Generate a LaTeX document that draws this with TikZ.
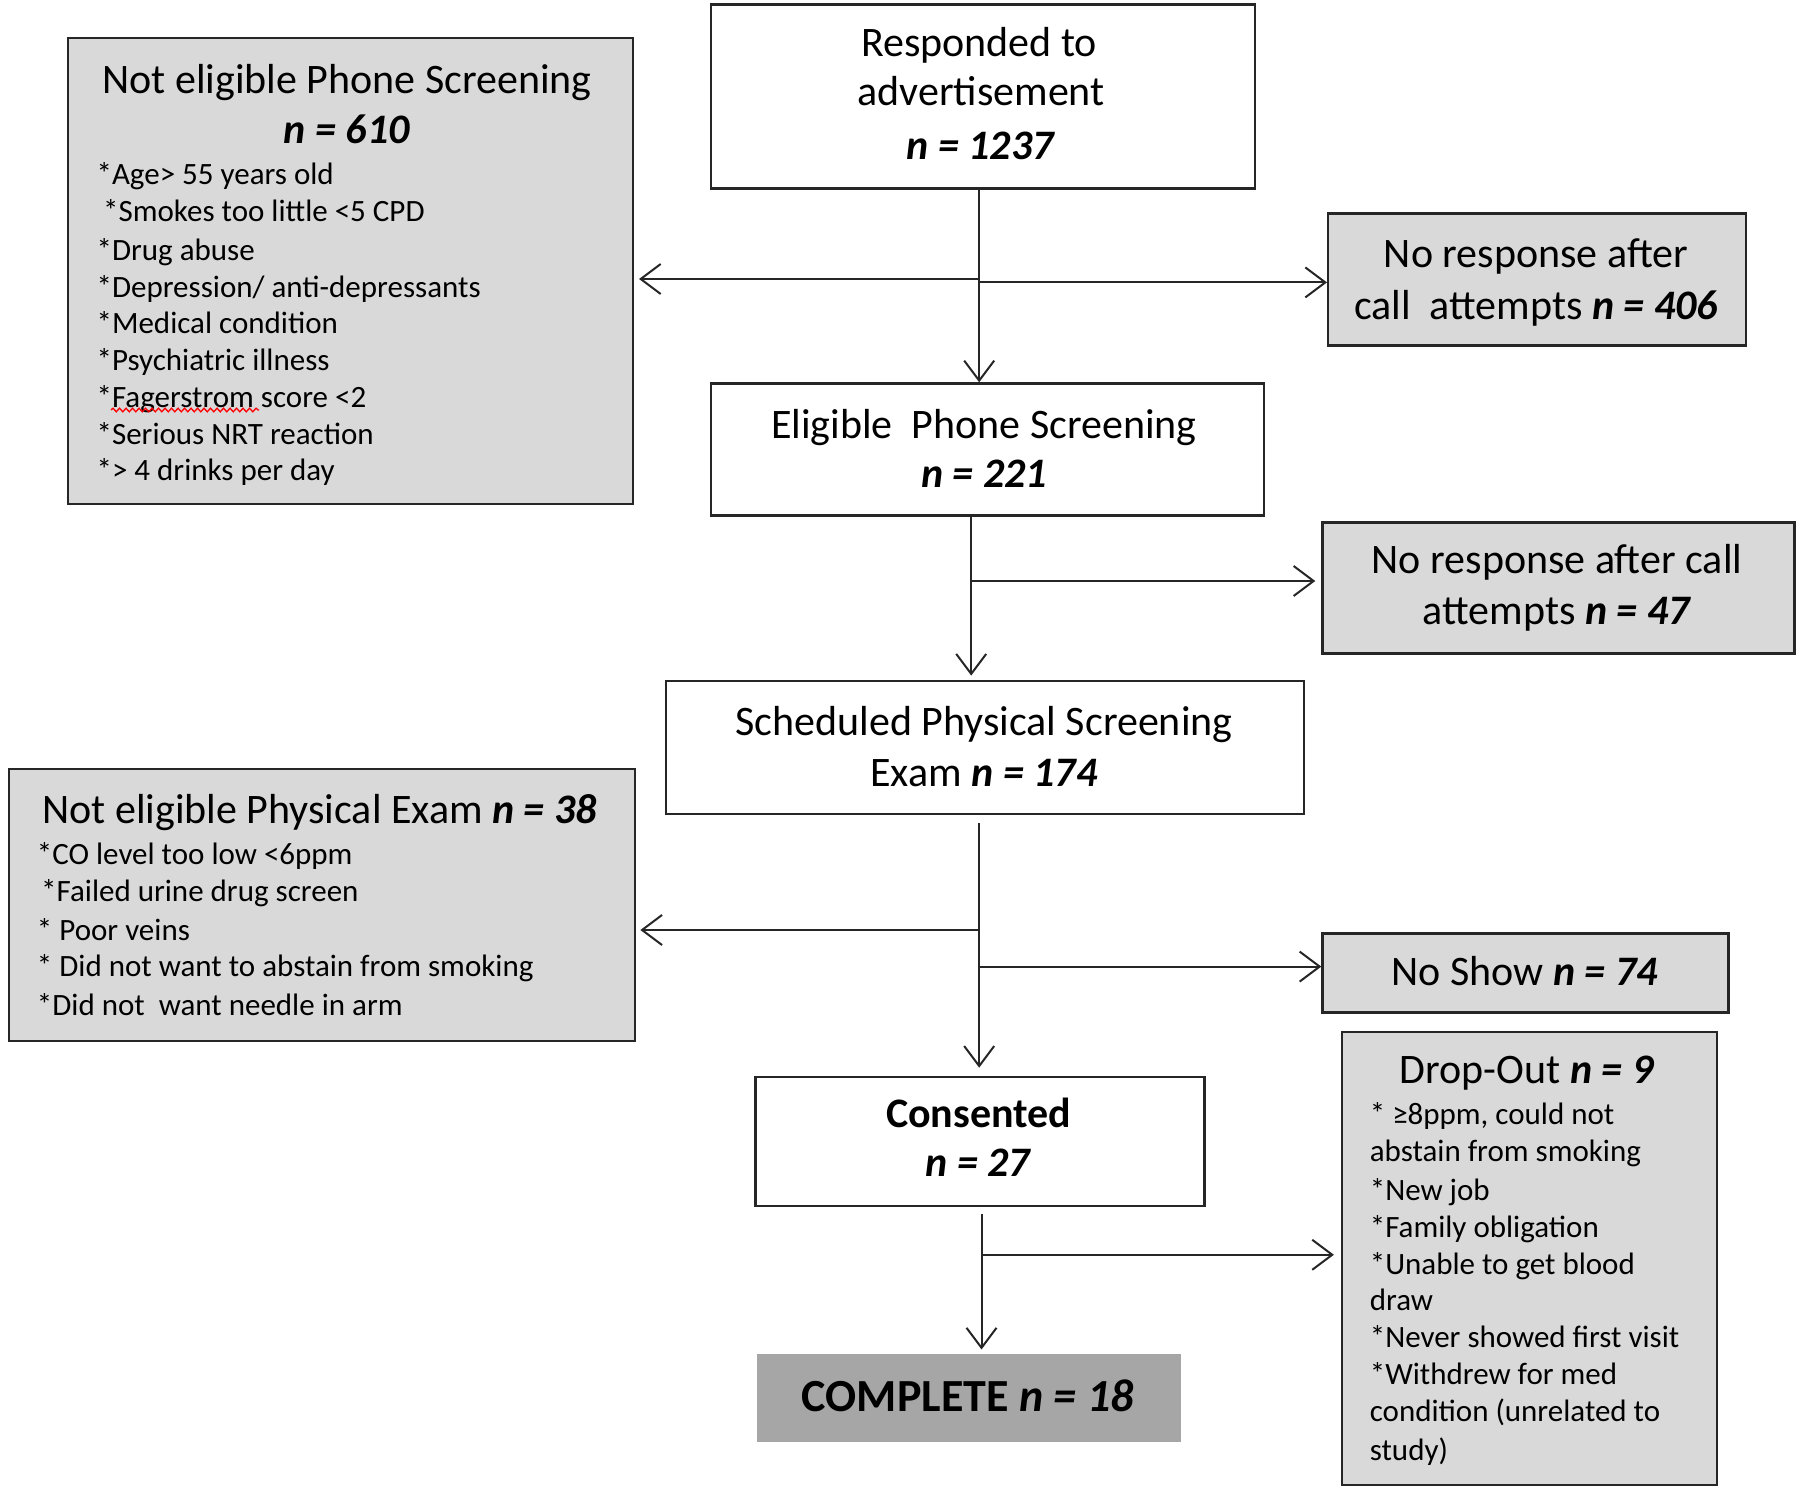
\documentclass[tikz,border=0pt]{standalone}
\usepackage{fontspec}
\setmainfont{Carlito}
\usetikzlibrary{arrows.meta,decorations.pathmorphing}
\definecolor{boxgray}{HTML}{D9D9D9}
\definecolor{compgray}{HTML}{A6A6A6}
\definecolor{linecol}{HTML}{262626}
\newcommand{\mainfs}{\fontsize{42}{50}\selectfont}
\newcommand{\itemfs}{\fontsize{31}{37}\selectfont}
\newcommand{\nval}[1]{\textbf{\textit{#1}}}
\begin{document}
\begin{tikzpicture}[x=1pt,y=-1pt,
  box/.style={draw=linecol, line width=2.4pt, inner sep=0pt, anchor=north west},
  gbox/.style={box, fill=boxgray},
  txt/.style={inner sep=0pt, anchor=mid, font=\mainfs, yshift=-11.5pt},
  itm/.style={inner sep=0pt, anchor=mid west, font=\itemfs, yshift=-9pt},
  conn/.style={draw=linecol, line width=2pt},
  arr/.style={conn, -{Straight Barb[length=20pt,width=30pt,line width=2pt]}}
]
\useasboundingbox (0,0) rectangle (1800,1490);

% ---------- boxes ----------
\node[box, minimum width=544pt, minimum height=184pt] (resp) at (709.5,3.4) {};
\node[gbox, minimum width=565pt, minimum height=466pt] (ne1) at (66.6,36.7) {};
\node[gbox, minimum width=418pt, minimum height=132pt] (nr1) at (1327,212.4) {};
\node[box, minimum width=553pt, minimum height=132pt] (elig) at (709.5,382.3) {};
\node[gbox, minimum width=472pt, minimum height=131pt] (nr2) at (1321.3,521.2) {};
\node[box, minimum width=638pt, minimum height=133pt] (sched) at (664.7,679.6) {};
\node[gbox, minimum width=626pt, minimum height=272pt] (ne2) at (8,768) {};
\node[gbox, minimum width=406pt, minimum height=79pt] (ns) at (1321.3,932.2) {};
\node[gbox, minimum width=375pt, minimum height=453pt] (drop) at (1340.9,1030.9) {};
\node[box, minimum width=449pt, minimum height=129pt] (cons) at (754.2,1075.7) {};
\node[box, draw=compgray, fill=compgray, minimum width=422pt, minimum height=86pt] (comp) at (756.5,1353.5) {};

% ---------- texts ----------
\node[txt] (r1) at (979,42.5) {Responded to};
\node[txt] (r2) at (981,91.8) {advertisement};
\node[txt] (r3) at (981,145.8) {\nval{n = 1237}};

\node[txt] (a0) at (347,79.2) {Not eligible Phone Screening};
\node[txt] (a1) at (347,129.7) {\nval{n = 610}};
\node[itm] (a2) at (96.4,173.3) {*Age> 55 years old};
\node[itm] (a3) at (103,210) {*Smokes too little <5 CPD};
\node[itm] (a4) at (96.4,249) {*Drug abuse};
\node[itm] (a5) at (96.4,285.9) {*Depression/ anti-depressants};
\node[itm] (a6) at (96.4,322.6) {*Medical condition};
\node[itm] (a7) at (96.4,359.3) {*Psychiatric illness};
\node[itm] (a8) at (96.4,396) {*Fagerstrom score <2};
\node[itm] (a9) at (96.4,432.8) {*Serious NRT reaction};
\node[itm] (a10) at (96.4,469.5) {*> 4 drinks per day};
\draw[red, line width=1.3pt, decorate, decoration={snake, amplitude=1.8pt, segment length=6.5pt}] (111,410) -- (259,410);

\node[txt] (b1) at (1536,253.7) {No response after};
\node[txt] (b2) at (1536,305.4) {call\ \ attempts \nval{n = 406}};

\node[txt] (c1) at (984,424.8) {Eligible\ \ Phone Screening};
\node[txt] (c2) at (984,474) {\nval{n = 221}};

\node[txt] (d1) at (1557,560) {No response after call};
\node[txt] (d2) at (1557,610.7) {attempts \nval{n = 47}};

\node[txt] (e1) at (984,722) {Scheduled Physical Screening};
\node[txt] (e2) at (984,772.6) {Exam \nval{n = 174}};

\node[txt] (f0) at (319.7,809.3) {Not eligible Physical Exam \nval{n = 38}};
\node[itm] (f1) at (36.7,853) {*CO level too low <6ppm};
\node[itm] (f2) at (41,889.7) {*Failed urine drug screen};
\node[itm] (f3) at (36.7,928.7) {* Poor veins};
\node[itm] (f4) at (36.7,965.5) {* Did not want to abstain from smoking};
\node[itm] (f5) at (36.7,1004.5) {*Did not\ \ want needle in arm};

\node[txt] (g1) at (1524.5,971.2) {No Show \nval{n = 74}};

\node[txt] (h0) at (1527,1070) {Drop-Out \nval{n = 9}};
\node[itm] (h1) at (1369.6,1113.6) {* ≥8ppm, could not};
\node[itm] (h2) at (1369.6,1150.3) {abstain from smoking};
\node[itm] (h3) at (1369.6,1189.3) {*New job};
\node[itm] (h4) at (1369.6,1226) {*Family obligation};
\node[itm] (h5) at (1369.6,1262.8) {*Unable to get blood};
\node[itm] (h6) at (1369.6,1299.5) {draw};
\node[itm] (h7) at (1369.6,1336.3) {*Never showed first visit};
\node[itm] (h8) at (1369.6,1373) {*Withdrew for med};
\node[itm] (h9) at (1369.6,1409.7) {condition (unrelated to};
\node[itm] (h10) at (1369.6,1448.8) {study)};

\node[txt] (k1) at (978.7,1113.6) {\textbf{Consented}};
\node[txt] (k2) at (978.7,1163) {\nval{n = 27}};

\node[txt, font=\fontsize{46}{54}\selectfont, yshift=-1pt] (m1) at (967.8,1397) {\textbf{COMPLETE} \nval{n = 18}};

% ---------- connectors ----------
\coordinate (j1) at (979.2,279);
\coordinate (j1b) at (979.2,282.4);
\draw[arr] (resp.south -| j1) -- (elig.north -| j1);
\draw[arr, shorten >=5pt] (j1) -- (ne1.east |- j1);
\draw[arr] (j1b) -- (nr1.west |- j1b);

\coordinate (j2) at (971.2,581);
\draw[arr, shorten >=4pt] (elig.south -| j2) -- (sched.north -| j2);
\draw[arr, shorten >=6pt] (j2) -- (nr2.west |- j2);

\coordinate (j3) at (979.2,930);
\coordinate (j3b) at (979.2,966.6);
\draw[arr, shorten <=8pt, shorten >=8pt] (sched.south -| j3) -- (cons.north -| j3);
\draw[arr, shorten >=4pt] (j3) -- (ne2.east |- j3);
\draw[arr] (j3b) -- (ns.west |- j3b);

\coordinate (j4) at (981.5,1254.8);
\draw[arr, shorten <=7pt, shorten >=4pt] (cons.south -| j4) -- (comp.north -| j4);
\draw[arr, shorten >=7pt] (j4) -- (drop.west |- j4);
\end{tikzpicture}
\end{document}
